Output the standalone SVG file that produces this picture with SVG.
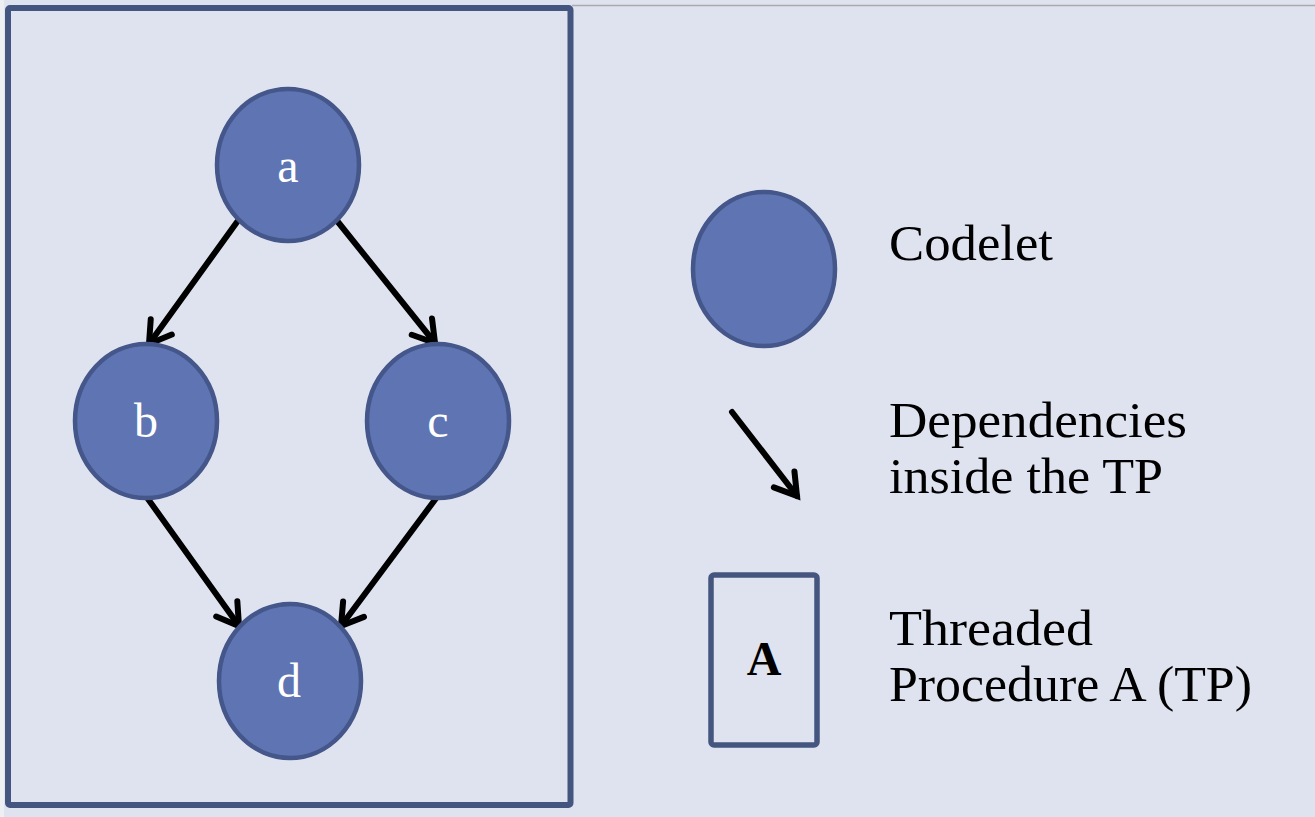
<svg xmlns="http://www.w3.org/2000/svg" width="1315" height="817" viewBox="0 0 1315 817">
  <defs>
    <style>
      .node { fill: #5F75B3; stroke: #44568A; stroke-width: 4.5; }
      .lbl { font-family: "Liberation Serif", "DejaVu Serif", serif; font-size: 48px; fill: #ffffff; text-anchor: middle; }
      .leg { font-family: "Liberation Serif", "DejaVu Serif", serif; font-size: 50px; fill: #000000; }
      .edge { stroke: #000000; stroke-width: 6; stroke-linecap: round; fill: none; marker-end: url(#arrow); }
      .frame { fill: none; stroke: #44557F; stroke-width: 6; }
    </style>
    <marker id="arrow" markerUnits="userSpaceOnUse" viewBox="-28 -18 34 36" refX="0" refY="0" markerWidth="34" markerHeight="36" orient="auto">
      <path d="M -21 -13 L 0 0 L -21 13" fill="none" stroke="#000000" stroke-width="6" stroke-linecap="round" stroke-linejoin="miter"/>
    </marker>
  </defs>
  <rect x="0" y="0" width="1315" height="817" fill="#DFE3EF"/>
  <rect x="0" y="0" width="4" height="817" fill="#EEEFF2"/>
  <line x1="572" y1="5.5" x2="1315" y2="5.5" stroke="#AAAAAA" stroke-width="1.5"/>

  <g id="tp-frame">
    <rect class="frame" x="8" y="8" width="562.5" height="797" rx="2"/>
  </g>

  <g id="connectors">
    <line class="edge" x1="237" y1="222" x2="149" y2="344"/>
    <line class="edge" x1="338" y1="222" x2="435" y2="343"/>
    <line class="edge" x1="148" y1="499" x2="239" y2="626"/>
    <line class="edge" x1="437" y1="497" x2="341" y2="626"/>
    <line class="edge" x1="732" y1="412" x2="797" y2="496"/>
  </g>

  <g id="node-a">
    <ellipse class="node" cx="288" cy="165" rx="71" ry="76"/>
    <text class="lbl" x="288" y="182">a</text>
  </g>
  <g id="node-b">
    <ellipse class="node" cx="146" cy="421" rx="71" ry="77"/>
    <text class="lbl" x="146" y="437">b</text>
  </g>
  <g id="node-c">
    <ellipse class="node" cx="438" cy="421" rx="71" ry="77"/>
    <text class="lbl" x="438" y="437">c</text>
  </g>
  <g id="node-d">
    <ellipse class="node" cx="290" cy="681" rx="71" ry="77"/>
    <text class="lbl" x="289" y="697">d</text>
  </g>

  <g id="legend-codelet">
    <ellipse class="node" cx="764" cy="269" rx="71" ry="77"/>
    <text class="leg" x="889" y="260" textLength="164" lengthAdjust="spacingAndGlyphs">Codelet</text>
  </g>
  <g id="legend-dependency">
    <text class="leg" x="889" y="437" textLength="298" lengthAdjust="spacingAndGlyphs">Dependencies</text>
    <text class="leg" x="889" y="493" textLength="274" lengthAdjust="spacingAndGlyphs">inside the TP</text>
  </g>
  <g id="legend-tp">
    <rect x="711" y="575" width="106" height="170" rx="3" fill="none" stroke="#44557F" stroke-width="5.5"/>
    <text x="764" y="675" font-family="'Liberation Serif', 'DejaVu Serif', serif" font-size="48" font-weight="bold" text-anchor="middle" fill="#000000">A</text>
    <text class="leg" x="889" y="645" textLength="204" lengthAdjust="spacingAndGlyphs">Threaded</text>
    <text class="leg" x="889" y="701" textLength="363" lengthAdjust="spacingAndGlyphs">Procedure A (TP)</text>
  </g>
</svg>
